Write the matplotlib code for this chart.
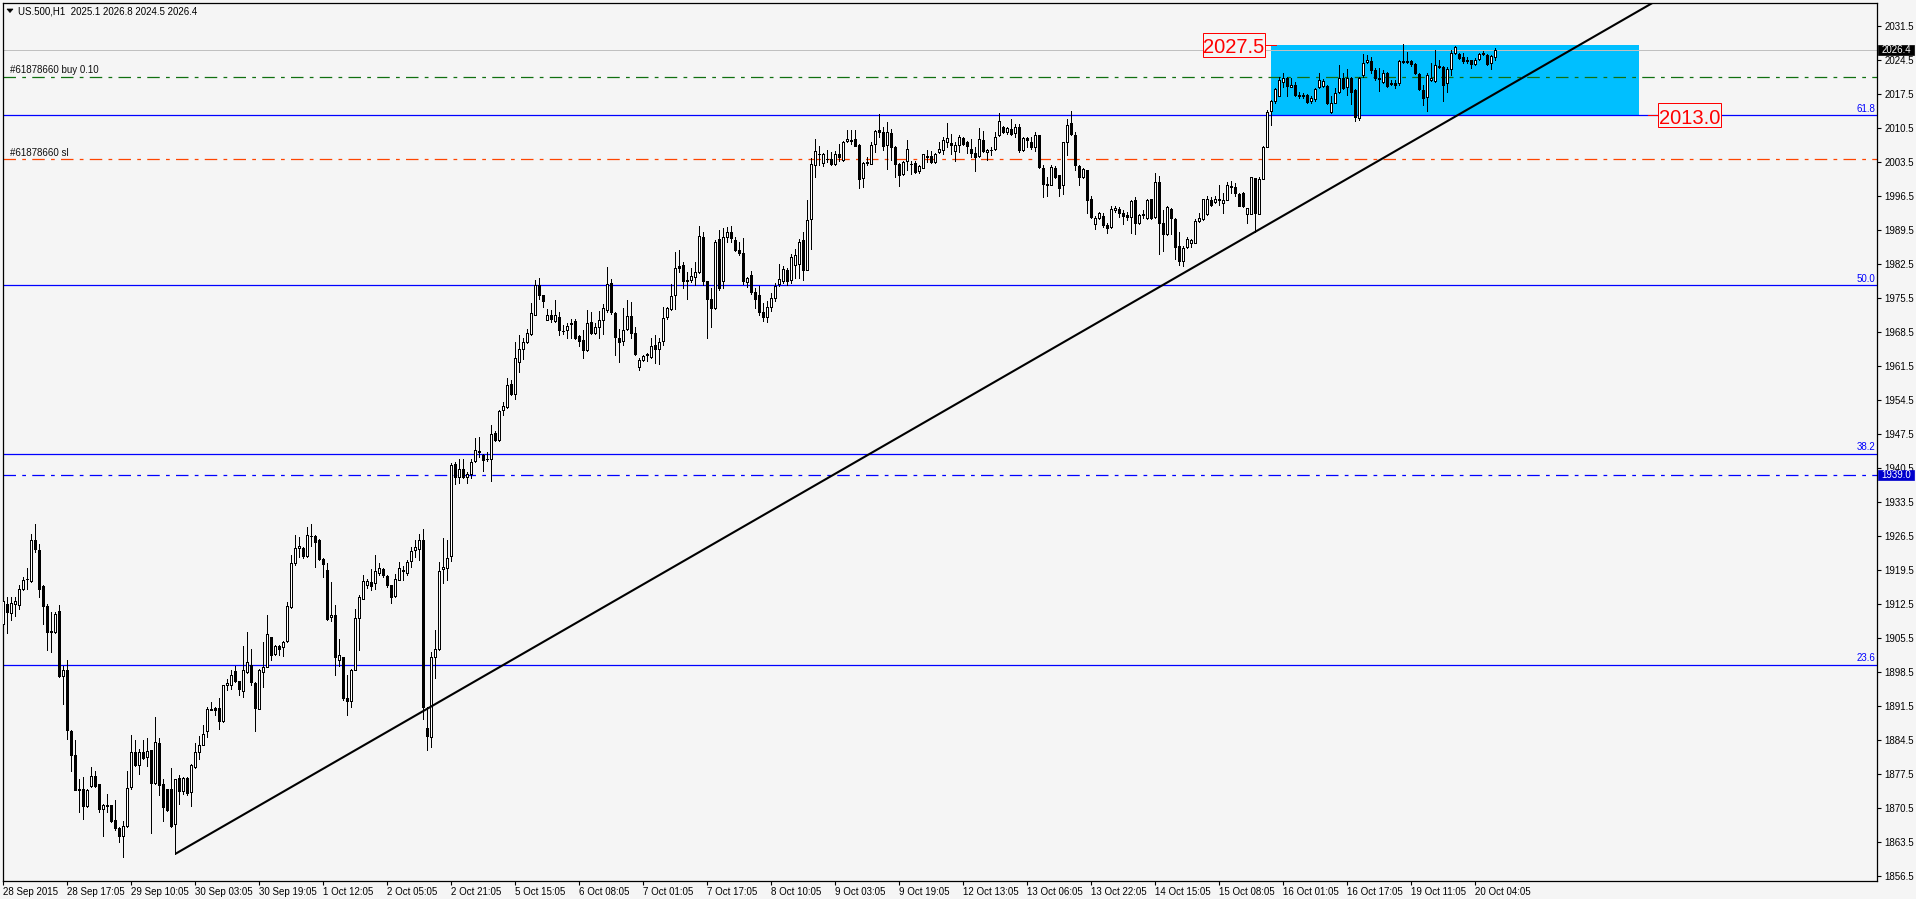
import matplotlib
matplotlib.use("Agg")
import matplotlib.pyplot as plt
import matplotlib.transforms as mtransforms
from matplotlib.patches import Rectangle, Polygon
from matplotlib import font_manager
import numpy as np

plt.rcParams['font.family'] = ['Liberation Sans', 'DejaVu Sans']

# ---------------- data ----------------
header_text = "US.500,H1  2025.1 2026.8 2024.5 2026.4"

opens = [
1908.4,1912.5,1910.6,1912.5,1912.3,1915.5,1917.6,1917.2,1925.7,1923.6,
1916.2,1912.0,1906.9,1906.7,1911.0,1897.6,1898.9,1886.3,1881.4,1874.3,
1874.3,1871.0,1875.0,1877.1,1875.5,1870.2,1871.2,1871.2,1868.1,1866.4,
1864.8,1866.8,1874.8,1882.1,1879.4,1882.1,1881.0,1882.5,1875.6,1883.9,
1875.5,1874.5,1874.3,1867.1,1876.6,1873.9,1876.6,1873.8,1878.9,1882.0,
1883.5,1886.3,1890.9,1891.1,1891.1,1888.4,1895.7,1895.7,1898.6,1896.6,
1894.5,1898.5,1900.0,1896.3,1890.9,1898.5,1899.6,1905.7,1902.2,1903.9,
1903.6,1904.8,1911.8,1920.8,1924.0,1924.0,1922.3,1926.5,1926.4,1925.6,
1921.8,1919.5,1909.8,1910.3,1900.9,1901.5,1893.1,1892.5,1898.9,1909.6,
1913.5,1916.4,1917.0,1916.7,1918.9,1919.6,1918.2,1916.3,1914.1,1917.5,
1919.3,1918.9,1921.3,1923.5,1923.7,1925.7,1887.0,1885.1,1901.6,1903.3,
1919.6,1919.9,1922.3,1941.2,1938.6,1940.3,1938.6,1939.3,1941.8,1943.9,
1943.2,1942.3,1942.4,1947.7,1946.2,1952.3,1953.0,1957.7,1955.6,1962.3,
1965.0,1966.3,1968.1,1972.0,1978.2,1976.0,1971.0,1972.0,1970.6,1971.5,
1968.7,1968.8,1970.0,1970.7,1967.6,1966.7,1964.7,1970.5,1968.2,1969.5,
1970.9,1972.9,1978.5,1972.4,1967.3,1966.5,1969.0,1971.7,1968.3,1961.3,
1962.6,1963.8,1963.2,1965.7,1965.0,1966.5,1971.5,1973.1,1976.0,1982.0,
1982.3,1979.1,1979.1,1979.8,1980.8,1988.0,1978.9,1975.2,1973.3,1987.6,
1978.9,1988.0,1989.0,1987.3,1985.3,1984.6,1978.7,1980.1,1976.7,1976.0,
1972.6,1971.5,1973.5,1975.5,1978.4,1979.0,1981.1,1979.2,1982.3,1982.5,
1987.4,1981.1,1991.7,2002.7,2005.1,2003.2,2004.1,2004.1,2003.1,2005.0,
2003.9,2007.7,2008.0,2008.2,2007.0,2000.2,2003.3,2003.1,2007.2,2009.9,
2009.6,2007.0,2009.4,2006.6,2003.1,2000.9,2003.7,2003.1,2003.2,2001.5,
2002.2,2004.6,2004.6,2003.4,2005.5,2005.9,2007.5,2007.4,2005.7,2007.0,
2008.4,2007.5,2006.1,2005.2,2004.6,2008.0,2005.5,2005.8,2006.1,2008.9,
2010.7,2009.6,2010.3,2009.4,2010.7,2005.8,2008.4,2007.6,2006.5,2008.9,
2002.2,1998.8,1998.7,2002.2,2000.7,1998.6,2007.5,2011.5,2009.0,2002.5,
2000.3,2001.7,1995.9,1990.7,1991.9,1992.4,1990.4,1990.0,1993.5,1993.8,
1992.9,1992.6,1992.1,1995.6,1990.9,1992.6,1991.8,1995.7,1992.0,1999.4,
1990.8,1988.7,1993.7,1991.6,1986.1,1983.0,1986.0,1986.8,1986.8,1991.3,
1991.6,1992.8,1995.6,1995.2,1995.9,1994.9,1995.6,1998.5,1998.3,1996.8,
1997.0,1992.7,1992.8,2000.2,1992.8,2000.0,2006.6,2013.9,2016.0,2017.0,
2019.9,2020.6,2018.8,2019.3,2017.2,2017.2,2017.2,2016.0,2016.3,2018.8,
2019.0,2019.0,2013.8,2015.6,2017.9,2020.6,2018.9,2020.6,2018.2,2012.4,
2021.3,2024.0,2024.2,2022.3,2020.8,2019.9,2021.8,2019.6,2019.6,2019.7,
2024.0,2024.1,2024.1,2023.5,2021.5,2018.2,2016.7,2020.3,2020.1,2023.0,
2023.0,2019.7,2022.5,2025.8,2025.6,2025.1,2024.3,2024.3,2023.6,2024.7,
2025.6,2025.4,2023.7,2025.1]

highs = [
1914.2,1913.9,1913.9,1913.9,1916.3,1918.0,1919.9,1926.9,1929.0,1924.9,
1916.3,1912.5,1910.8,1910.8,1912.3,1899.8,1900.9,1886.5,1884.4,1876.5,
1876.9,1874.5,1878.9,1878.2,1875.5,1871.4,1873.4,1871.2,1872.2,1866.6,
1867.9,1878.1,1885.6,1884.4,1882.7,1884.4,1884.9,1882.5,1889.2,1884.9,
1876.5,1874.5,1878.7,1876.5,1877.2,1876.9,1876.9,1879.6,1883.9,1885.4,
1887.5,1891.3,1892.3,1891.3,1893.1,1895.9,1897.1,1898.8,1899.8,1896.7,
1903.9,1906.7,1903.3,1896.4,1899.1,1904.6,1910.3,1905.7,1904.1,1904.1,
1904.8,1912.9,1922.6,1926.6,1926.2,1924.2,1928.3,1929.0,1926.6,1925.9,
1921.9,1920.9,1917.0,1912.2,1905.2,1901.5,1897.8,1899.1,1911.5,1914.4,
1918.4,1917.7,1919.7,1922.6,1920.8,1919.8,1918.4,1916.3,1918.7,1921.1,
1920.3,1921.5,1924.2,1925.6,1926.9,1927.8,1891.3,1902.6,1907.1,1921.1,
1926.1,1925.6,1941.5,1941.7,1942.2,1942.2,1939.7,1942.4,1946.6,1946.8,
1943.4,1943.8,1949.2,1948.0,1952.3,1954.1,1958.9,1958.5,1966.4,1967.8,
1967.1,1969.1,1974.3,1979.1,1979.6,1976.1,1973.2,1972.9,1975.0,1972.6,
1969.8,1970.2,1971.2,1971.2,1967.8,1968.8,1973.0,1972.6,1970.2,1972.7,
1974.1,1981.8,1979.4,1972.6,1969.1,1973.3,1975.0,1974.6,1969.5,1963.0,
1963.8,1964.1,1967.1,1967.9,1967.1,1973.6,1973.6,1978.4,1984.9,1985.3,
1982.9,1980.8,1981.6,1982.9,1990.3,1989.0,1978.9,1977.4,1987.3,1989.5,
1989.8,1990.0,1990.3,1988.0,1987.0,1987.7,1979.8,1981.0,1977.4,1978.0,
1974.5,1974.8,1976.5,1978.5,1982.5,1982.1,1981.5,1984.5,1985.6,1987.6,
1989.0,1995.5,2004.3,2008.2,2006.8,2005.3,2005.8,2005.5,2005.6,2007.2,
2007.7,2010.0,2009.9,2010.0,2007.2,2003.4,2004.4,2007.5,2009.9,2013.2,
2010.6,2011.6,2010.3,2006.8,2003.2,2003.7,2007.9,2003.7,2003.7,2002.7,
2005.1,2005.8,2005.7,2005.3,2007.6,2008.5,2011.4,2009.2,2007.5,2008.9,
2008.5,2007.7,2008.2,2006.5,2010.5,2009.7,2006.1,2006.5,2009.6,2013.5,
2010.9,2010.7,2012.3,2011.3,2011.3,2008.5,2008.5,2008.5,2009.6,2008.9,
2002.7,2000.3,2002.7,2002.5,2000.7,2007.6,2012.3,2014.0,2009.6,2002.7,
2002.2,2001.8,1996.5,1992.4,1993.2,1992.9,1990.8,1994.3,1994.3,1994.1,
1993.5,1993.1,1995.5,1996.3,1992.7,1993.5,1995.9,1995.9,2001.2,2000.5,
1993.5,1994.4,1993.9,1991.8,1989.1,1986.2,1988.0,1987.5,1991.6,1993.0,
1995.9,1996.4,1996.3,1996.4,1998.7,1997.0,1999.2,1999.6,1999.0,1997.0,
1997.3,1994.0,2000.4,2000.2,2000.4,2006.7,2014.1,2016.2,2018.6,2021.0,
2021.8,2021.0,2020.6,2019.9,2017.9,2017.7,2017.5,2016.9,2018.6,2021.8,
2020.4,2019.3,2017.0,2018.6,2023.4,2021.7,2022.5,2021.0,2018.4,2021.0,
2025.6,2025.4,2025.1,2022.7,2022.7,2022.3,2022.0,2020.3,2020.3,2024.3,
2027.7,2026.1,2024.4,2023.7,2021.8,2019.3,2021.7,2023.7,2026.5,2024.4,
2023.2,2023.0,2026.5,2027.3,2025.9,2025.8,2025.1,2024.5,2024.9,2025.9,
2026.3,2025.6,2025.4,2026.8]

lows = [
1907.4,1906.4,1909.1,1910.1,1911.5,1915.3,1915.6,1917.0,1923.2,1913.9,
1908.4,1902.9,1902.6,1906.4,1897.4,1891.9,1884.7,1878.2,1874.1,1869.7,
1868.3,1870.7,1874.8,1874.8,1869.7,1864.8,1869.7,1867.6,1865.9,1863.5,
1860.4,1866.6,1874.5,1879.2,1877.5,1880.6,1879.2,1865.3,1875.5,1873.1,
1867.9,1869.8,1866.6,1861.1,1871.4,1873.4,1873.2,1870.9,1878.7,1880.6,
1883.4,1885.2,1890.6,1889.6,1886.8,1888.2,1894.7,1895.0,1896.4,1893.7,
1893.3,1898.3,1895.9,1886.3,1890.8,1895.4,1899.5,1900.9,1901.9,1902.0,
1901.7,1904.6,1911.6,1920.5,1922.1,1921.9,1922.1,1924.5,1920.1,1921.6,
1918.0,1909.1,1908.9,1897.8,1899.8,1892.8,1889.7,1891.3,1898.8,1902.9,
1913.4,1915.7,1915.3,1915.6,1918.5,1918.0,1916.0,1912.6,1913.9,1917.4,
1917.5,1918.5,1920.1,1922.2,1921.5,1888.9,1882.4,1883.1,1897.3,1902.9,
1916.7,1917.4,1921.3,1937.2,1937.4,1938.4,1937.4,1938.4,1941.7,1942.7,
1939.8,1941.8,1937.7,1946.0,1946.0,1951.4,1952.7,1955.4,1954.7,1960.2,
1962.8,1966.1,1967.8,1971.9,1975.3,1973.6,1970.9,1970.5,1970.5,1967.9,
1968.0,1967.1,1967.1,1966.9,1965.6,1963.0,1964.5,1968.1,1968.1,1967.1,
1968.1,1972.6,1972.2,1963.6,1962.3,1965.7,1968.8,1967.2,1963.7,1960.6,
1962.4,1962.4,1963.1,1962.1,1961.9,1965.7,1971.2,1972.9,1973.1,1980.8,
1977.4,1975.2,1978.7,1978.1,1980.5,1978.1,1967.2,1969.5,1973.1,1977.0,
1977.5,1987.0,1987.0,1985.0,1984.3,1978.4,1977.7,1976.3,1973.3,1972.0,
1970.6,1970.5,1972.8,1974.8,1978.0,1978.5,1978.2,1978.5,1979.5,1979.5,
1979.2,1981.1,1985.6,2000.3,2002.7,2002.5,2003.4,2002.7,2002.7,2003.7,
2003.7,2007.5,2007.2,2006.8,1998.1,1998.2,2002.7,2002.9,2005.4,2008.5,
2005.8,2002.0,2003.9,2000.3,1998.4,2000.7,2001.8,2001.0,2001.1,2001.1,
2002.1,2003.4,2003.3,2003.3,2005.2,2005.0,2006.5,2005.0,2003.6,2005.5,
2007.0,2005.2,2004.4,2001.5,2004.4,2005.5,2003.9,2004.8,2005.8,2008.7,
2009.4,2009.2,2008.9,2008.5,2005.5,2005.7,2006.5,2006.1,2005.7,2002.2,
1996.3,1996.5,1998.6,2000.2,1996.5,1996.9,2004.8,2008.9,2001.7,1998.6,
2000.2,1992.9,1991.9,1989.7,1991.7,1990.0,1988.8,1989.9,1993.1,1992.1,
1990.7,1991.5,1988.8,1988.7,1990.7,1991.8,1991.6,1991.6,1991.8,1984.5,
1985.0,1988.4,1988.6,1983.5,1982.2,1982.0,1985.8,1986.0,1986.7,1991.1,
1991.5,1992.5,1994.4,1994.9,1994.6,1992.9,1995.5,1997.0,1996.4,1994.4,
1994.2,1990.9,1992.7,1989.1,1992.7,2000.0,2006.4,2011.0,2015.6,2016.9,
2018.8,2016.9,2018.8,2017.0,2016.5,2016.5,2015.6,2015.6,2016.0,2018.6,
2018.9,2015.3,2013.4,2015.5,2017.7,2018.4,2017.2,2015.3,2011.9,2012.0,
2021.0,2023.8,2021.8,2020.3,2018.1,2019.6,2018.9,2019.2,2018.6,2019.3,
2023.7,2023.7,2023.2,2021.5,2018.2,2015.1,2014.0,2020.1,2019.9,2022.7,
2016.0,2017.9,2021.3,2025.6,2024.7,2023.8,2023.8,2022.7,2023.4,2024.5,
2025.4,2023.4,2022.5,2024.5]

closes = [
1913.0,1910.9,1912.7,1913.0,1915.6,1917.5,1917.7,1925.7,1923.8,1915.5,
1912.0,1906.7,1906.7,1910.5,1897.6,1898.9,1886.5,1881.3,1874.2,1874.1,
1871.0,1874.1,1877.1,1875.1,1870.2,1871.2,1871.0,1867.9,1866.4,1864.8,
1866.8,1874.7,1882.1,1879.4,1882.1,1880.8,1882.3,1875.6,1884.0,1875.3,
1870.7,1870.0,1866.8,1876.5,1874.0,1876.6,1873.6,1879.4,1882.0,1883.5,
1885.8,1890.8,1890.7,1890.6,1888.4,1895.7,1896.3,1897.8,1896.7,1894.9,
1898.9,1900.5,1896.4,1891.1,1898.9,1899.6,1906.3,1902.0,1903.8,1903.3,
1904.6,1912.0,1920.9,1924.0,1924.4,1922.3,1926.6,1926.4,1925.2,1921.8,
1920.6,1909.4,1910.3,1901.5,1901.9,1893.1,1892.5,1898.9,1909.6,1913.9,
1917.1,1917.2,1916.2,1919.3,1919.8,1918.4,1916.3,1913.9,1917.7,1919.9,
1919.4,1921.1,1923.4,1924.2,1925.7,1891.3,1885.3,1901.6,1903.2,1919.2,
1920.1,1922.0,1941.0,1938.6,1940.3,1938.6,1939.3,1941.7,1944.1,1943.7,
1942.0,1942.2,1947.5,1946.2,1952.1,1953.2,1957.6,1955.6,1963.0,1965.0,
1966.4,1968.2,1972.4,1978.2,1976.0,1974.8,1972.0,1971.2,1971.9,1968.8,
1968.6,1969.6,1970.3,1967.1,1966.5,1964.8,1970.3,1968.3,1969.5,1970.9,
1973.3,1978.4,1972.6,1967.4,1966.4,1968.9,1971.7,1968.3,1964.0,1962.7,
1963.5,1963.9,1965.6,1965.0,1966.4,1971.4,1973.3,1975.9,1981.6,1981.6,
1978.9,1979.0,1979.9,1980.8,1988.2,1978.9,1975.2,1973.3,1987.0,1977.4,
1988.0,1989.0,1987.8,1985.3,1984.6,1978.9,1979.6,1976.7,1975.3,1972.6,
1971.5,1973.5,1975.5,1977.8,1979.4,1981.4,1979.0,1983.8,1984.2,1986.9,
1981.1,1991.5,2003.1,2005.6,2005.0,2005.0,2004.0,2002.9,2005.0,2004.4,
2007.5,2008.2,2007.7,2006.8,2000.0,2003.2,2003.5,2007.0,2009.7,2009.6,
2006.8,2009.6,2006.6,2003.1,2000.7,2003.4,2006.1,2003.0,2001.3,2002.5,
2005.0,2004.5,2003.4,2005.0,2006.1,2007.9,2008.4,2007.0,2007.0,2008.5,
2007.2,2006.8,2005.2,2004.4,2008.2,2005.7,2005.9,2005.9,2008.5,2011.8,
2009.6,2010.4,2009.1,2010.7,2005.8,2008.4,2008.0,2006.6,2008.9,2002.4,
1998.9,1998.7,2002.4,2000.4,1998.1,2007.5,2011.1,2009.1,2002.7,2000.3,
2002.0,1995.6,1992.1,1991.9,1992.9,1990.4,1989.8,1993.8,1994.0,1992.9,
1992.3,1992.1,1995.4,1990.8,1992.5,1992.7,1995.6,1991.8,1999.2,1990.8,
1988.7,1994.2,1991.8,1986.0,1983.0,1985.8,1987.5,1987.4,1991.3,1991.8,
1995.7,1995.7,1994.6,1995.9,1995.5,1995.6,1998.7,1998.3,1997.0,1994.4,
1994.4,1993.9,2000.4,1993.0,2000.0,2006.4,2013.8,2016.0,2018.4,2020.3,
2020.6,2019.0,2019.3,2017.2,2016.9,2016.9,2015.8,2016.5,2018.4,2020.3,
2020.1,2015.6,2015.6,2017.7,2020.6,2018.6,2020.6,2017.9,2012.7,2020.8,
2023.8,2024.4,2022.3,2020.6,2020.4,2021.8,2019.0,2019.5,2019.3,2024.1,
2024.1,2024.0,2023.5,2021.7,2018.4,2016.5,2021.3,2020.8,2023.4,2023.2,
2019.3,2022.5,2025.8,2027.0,2024.9,2024.1,2024.2,2023.5,2024.5,2025.6,
2025.9,2023.6,2025.2,2026.4]

date_labels = ["28 Sep 2015", "28 Sep 17:05", "29 Sep 10:05", "30 Sep 03:05",
               "30 Sep 19:05", "1 Oct 12:05", "2 Oct 05:05", "2 Oct 21:05",
               "5 Oct 15:05", "6 Oct 08:05", "7 Oct 01:05", "7 Oct 17:05",
               "8 Oct 10:05", "9 Oct 03:05", "9 Oct 19:05", "12 Oct 13:05",
               "13 Oct 06:05", "13 Oct 22:05", "14 Oct 15:05", "15 Oct 08:05",
               "16 Oct 01:05", "16 Oct 17:05", "19 Oct 11:05", "20 Oct 04:05"]
bars_per_label = 16

price_ticks = [2031.5, 2024.5, 2017.5, 2010.5, 2003.5, 1996.5, 1989.5, 1982.5,
               1975.5, 1968.5, 1961.5, 1954.5, 1947.5, 1940.5, 1933.5, 1926.5,
               1919.5, 1912.5, 1905.5, 1898.5, 1891.5, 1884.5, 1877.5, 1870.5,
               1863.5, 1856.5]

fib_levels = [2013.0, 1978.1, 1943.4, 1900.0]
fib_names = ["61.8", "50.0", "38.2", "23.6"]

bid_price = 2026.4
entry_price = 2021.0
entry_text = "#61878660 buy 0.10"
sl_price = 2004.0
sl_text = "#61878660 sl"
alert_price = 1939.0

zone_low, zone_high = 2013.0, 2027.5
zone_start_bar, zone_end_bar = 316.9, 408.9

trend_bars = [43.1, 412.2]
trend_prices = [1861.1, 2036.1]

# ---------------- figure ----------------
W, H, DPI = 1916, 899, 100
BG = '#F5F5F5'
fig = plt.figure(figsize=(W / DPI, H / DPI), dpi=DPI, facecolor=BG)
L_PX, R_PX, T_PX, B_PX = 3, 1877, 3, 881
ax = fig.add_axes([L_PX / W, 1 - B_PX / H, (R_PX - L_PX) / W, (B_PX - T_PX) / H])
ax.set_facecolor(BG)
ax.set_xlim(-0.08, 468.42)
ax.set_ylim(1855.47, 2036.13)

for s in ax.spines.values():
    s.set_color('black')
    s.set_linewidth(0.9)

PX = 0.72  # one pixel in points

def fx(px):
    return px / W

def fy(py):
    return 1 - py / H

# zone rectangle
ax.add_patch(Rectangle((zone_start_bar, zone_low), zone_end_bar - zone_start_bar,
                       zone_high - zone_low, facecolor='#00BFFF', edgecolor='none', zorder=1))

# horizontal lines
dashdot = (0, (10, 5, 3, 5))
ax.axhline(bid_price, color='#C0C0C0', lw=PX, zorder=2)
for lv in fib_levels:
    ax.axhline(lv, color='#0000FF', lw=0.9, zorder=2)
ax.axhline(alert_price, color='#0000FF', lw=0.9, ls=dashdot, zorder=2)
ax.axhline(entry_price, color='#107010', lw=0.9, ls=dashdot, zorder=2)
ax.axhline(sl_price, color='#FF4500', lw=0.9, ls=dashdot, zorder=2)

# candles
o = np.array(opens); h = np.array(highs); l = np.array(lows); c = np.array(closes)
h = np.maximum(h, np.maximum(o, c)); l = np.minimum(l, np.minimum(o, c))
k = np.arange(len(o))
ax.vlines(k, l, h, colors='black', linewidth=PX, zorder=3, antialiased=False)
up = c >= o
ax.bar(k[up], c[up] - o[up], bottom=o[up], width=0.5, color='white',
       edgecolor='black', linewidth=PX, zorder=4, antialiased=False)
ax.bar(k[~up], c[~up] - o[~up], bottom=o[~up], width=0.5, color='black',
       edgecolor='black', linewidth=PX, zorder=4, antialiased=False)

# trend line
slope = (trend_prices[1] - trend_prices[0]) / (trend_bars[1] - trend_bars[0])
x_end = 470
ax.plot([trend_bars[0], x_end], [trend_prices[0], trend_prices[0] + slope * (x_end - trend_bars[0])],
        color='black', lw=1.5, zorder=5, solid_capstyle='butt')

# fib labels and order labels
blend = mtransforms.blended_transform_factory(ax.transAxes, ax.transData)
for lv, nm in zip(fib_levels, fib_names):
    ax.text(0.9993, lv + 0.25, nm, transform=blend, ha='right', va='bottom',
            color='#0000FF', fontsize=7, zorder=6)
ax.text(0.0035, entry_price + 0.3, entry_text, transform=blend, ha='left', va='bottom',
        color='#101010', fontsize=7, zorder=6)
ax.text(0.0035, sl_price + 0.3, sl_text, transform=blend, ha='left', va='bottom',
        color='#101010', fontsize=7, zorder=6)

# zone price boxes (narrow font if present)
installed = {f.name for f in font_manager.fontManager.ttflist}
if 'Liberation Sans Narrow' in installed:
    zone_family, zone_size = 'Liberation Sans Narrow', 17
else:
    zone_family, zone_size = 'Liberation Sans', 14.5

ax.add_patch(Rectangle((299.8, 2025.08), 315.4 - 299.8, 2030.02 - 2025.08,
                       facecolor=BG, edgecolor='red', lw=PX, zorder=6, clip_on=False))
ax.text(307.6, 2025.75, f"{zone_high:.1f}", ha='center', va='baseline', color='red',
        fontsize=zone_size, family=zone_family, zorder=7)
ax.plot([315.4, 318.2], [zone_high, zone_high], color='red', lw=PX, zorder=6)

ax.add_patch(Rectangle((413.7, 2010.62), 429.4 - 413.7, 2015.55 - 2010.62,
                       facecolor=BG, edgecolor='red', lw=PX, zorder=6))
ax.text(421.55, 2011.3, f"{zone_low:.1f}", ha='center', va='baseline', color='red',
        fontsize=zone_size, family=zone_family, zorder=7)
ax.plot([411.2, 413.7], [zone_low, zone_low], color='red', lw=PX, zorder=6)

# ticks
ax.yaxis.tick_right()
ax.set_yticks(price_ticks)
ax.set_yticklabels([f"{p:.1f}" for p in price_ticks])
ax.tick_params(axis='y', direction='out', length=3, width=0.8, pad=2.5,
               labelsize=7, colors='black')
ax.set_xticks([bars_per_label * i for i in range(len(date_labels))])
ax.set_xticklabels(date_labels, ha='left')
ax.tick_params(axis='x', direction='out', length=3, width=0.8, pad=1.5,
               labelsize=7, colors='black')

# header
fig.patches.append(Polygon([[fx(7), fy(9)], [fx(13), fy(9)], [fx(10), fy(12.5)]],
                           closed=True, transform=fig.transFigure, facecolor='black',
                           edgecolor='black', lw=0.5))
fig.text(fx(18), fy(11), header_text, ha='left', va='center', fontsize=7, color='black')

# price boxes on the scale
def y_px(p):
    return 25.5 + (2031.5 - p) * 4.86

for price, col in [(bid_price, 'black'), (alert_price, '#0000CD')]:
    yc = y_px(price)
    fig.patches.append(Rectangle((fx(1877.5), fy(yc + 5)), (36.5) / W, 10 / H,
                                 transform=fig.transFigure, facecolor=col,
                                 edgecolor=col, lw=0.5))
    fig.text(fx(1881.5), fy(yc), f"{price:.1f}", ha='left', va='center',
             fontsize=7, color='white')

fig.savefig("out.png", dpi=DPI, facecolor=BG)
